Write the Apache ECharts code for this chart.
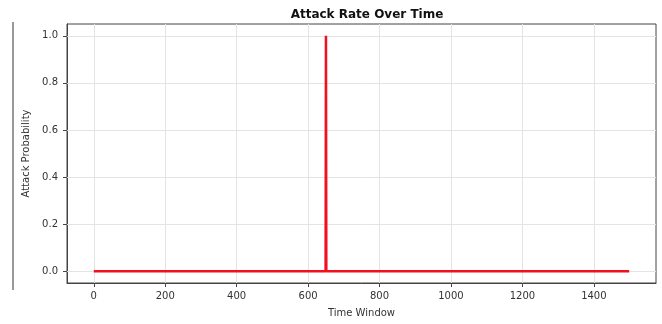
<!DOCTYPE html>
<html>
<head>
<meta charset="utf-8">
<script src="https://cdn.jsdelivr.net/npm/echarts@6/dist/echarts.min.js"></script>
<style>
html,body{margin:0;padding:0;background:#fff;}
#chart{width:662px;height:324px;}
</style>
</head>
<body>
<div id="chart"></div>
<script>
// Data: attack probability per time window
var timeWindows = [0, 649, 650, 651, 1499];
var attackProb  = [0, 0, 1, 0, 0];
var xTicks = [0, 200, 400, 600, 800, 1000, 1200, 1400];
var yTicks = [0, 0.2, 0.4, 0.6, 0.8, 1.0];

var seriesData = timeWindows.map(function (t, i) { return [t, attackProb[i]]; });

var chart = echarts.init(document.getElementById('chart'), null, {renderer: 'canvas'});
var font = 'DejaVu Sans';
chart.setOption({
  animation: false,
  backgroundColor: '#ffffff',
  title: {
    text: 'Attack Rate Over Time',
    left: 362, top: 4, textAlign: 'center',
    textStyle: {fontFamily: font, fontSize: 12, fontWeight: 'bold', color: '#111'}
  },
  grid: {left: 67, right: 6, top: 24, bottom: 41, show: true, borderColor: '#444', borderWidth: 1, backgroundColor: 'transparent'},
  xAxis: {
    type: 'value', min: -75, max: 1574,
    name: 'Time Window', nameLocation: 'middle', nameGap: 25,
    nameTextStyle: {fontFamily: font, fontSize: 10, color: '#333'},
    axisLine: {show: true, onZero: false, lineStyle: {color: '#444'}},
    axisTick: {show: true, customValues: xTicks, length: 4, lineStyle: {color: '#444'}},
    axisLabel: {customValues: xTicks, fontFamily: font, fontSize: 10, color: '#333', margin: 8,
      formatter: function (v) { return String(v); }},
    splitLine: {show: false}
  },
  yAxis: {
    type: 'value', min: -0.05, max: 1.05,
    name: 'Attack Probability', nameLocation: 'middle', nameGap: 36,
    nameTextStyle: {fontFamily: font, fontSize: 10, color: '#333'},
    axisLine: {show: true, onZero: false, lineStyle: {color: '#444'}},
    axisTick: {show: true, customValues: yTicks, length: 4, lineStyle: {color: '#444'}},
    axisLabel: {customValues: yTicks, fontFamily: font, fontSize: 10, color: '#333', margin: 9,
      formatter: function (v) { return v.toFixed(1); }},
    splitLine: {show: false}
  },
  graphic: [{
    type: 'line', shape: {x1: 13, y1: 22, x2: 13, y2: 290},
    style: {stroke: '#777', lineWidth: 1.5}
  }],
  series: [{
    type: 'line',
    data: seriesData,
    showSymbol: false,
    lineStyle: {color: '#f01020', width: 2.5},
    z: 5,
    markLine: {
      silent: true, symbol: 'none', label: {show: false},
      lineStyle: {color: '#e4e4e4', width: 1, type: 'solid'},
      data: xTicks.map(function (v) { return {xAxis: v}; })
        .concat(yTicks.map(function (v) { return {yAxis: v}; }))
    }
  }]
});
</script>
</body>
</html>
